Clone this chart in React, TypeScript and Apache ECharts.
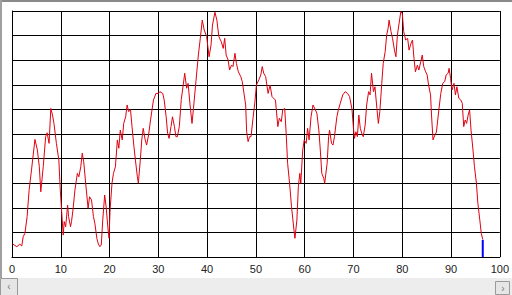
import React, { useEffect, useRef } from "react";
import * as echarts from "echarts";

// x positions and values of the red trace
const lineX: number[] = [
  0.1, 1.0, 1.6, 2.0, 2.3, 2.65, 3.1, 3.5, 4.0, 4.7, 5.2, 5.6, 5.9, 6.4, 6.9, 7.2, 7.6, 7.96, 8.3, 8.6,
  9.1, 9.6, 9.9, 10.2, 10.5, 10.7, 11.0, 11.4, 11.6, 12.0, 12.2, 12.5, 12.9, 13.4, 13.7, 14.1, 14.4, 14.7, 15.1, 15.6,
  15.9, 16.3, 16.7, 17.0, 17.4, 17.7, 18.0, 18.3, 18.6, 19.0, 19.3, 19.7, 19.9, 20.1, 20.5, 20.8, 21.2, 21.6, 21.9, 22.2,
  22.6, 22.9, 23.3, 23.6, 23.9, 24.3, 24.6, 25.0, 25.3, 25.7, 25.9, 26.3, 26.6, 26.9, 27.3, 27.6, 28.0, 28.4, 28.7, 29.0,
  29.5, 30.0, 30.3, 30.9, 31.2, 31.6, 31.9, 32.2, 32.6, 32.9, 33.3, 33.6, 33.9, 34.3, 34.7, 35.1, 35.4, 35.8, 36.1, 36.5,
  36.9, 37.2, 37.7, 38.2, 38.6, 39.0, 39.4, 39.9, 40.4, 40.8, 41.1, 41.6, 42.0, 42.4, 42.9, 43.3, 43.6, 43.9, 44.3, 44.6,
  45.0, 45.3, 45.7, 46.0, 46.4, 46.9, 47.2, 47.6, 47.9, 48.1, 48.4, 48.7, 49.0, 49.4, 49.8, 50.1, 50.6, 51.0, 51.3, 51.6,
  52.0, 52.5, 52.9, 53.3, 54.0, 54.5, 54.8, 55.2, 55.5, 55.9, 56.2, 56.5, 56.9, 57.3, 57.8, 58.0, 58.4, 58.7, 59.0, 59.2,
  59.6, 59.9, 60.3, 60.6, 60.9, 61.3, 61.7, 62.2, 62.5, 62.9, 63.2, 63.5, 63.9, 64.1, 64.6, 64.9, 65.1, 65.5, 65.8, 66.1,
  66.6, 66.9, 67.3, 67.8, 68.3, 68.8, 69.2, 69.7, 70.0, 70.2, 70.5, 70.8, 71.1, 71.4, 71.7, 72.0, 72.4, 72.7, 73.1, 73.4,
  73.7, 74.1, 74.4, 74.8, 75.1, 75.4, 75.8, 76.1, 76.5, 76.8, 77.1, 77.3, 77.7, 78.0, 78.4, 78.7, 79.0, 79.3, 79.7, 80.0,
  80.3, 80.7, 81.1, 81.4, 81.8, 82.1, 82.4, 82.7, 83.1, 83.4, 83.8, 84.1, 84.4, 84.8, 85.1, 85.4, 85.8, 86.0, 86.3, 86.7,
  87.0, 87.5, 87.9, 88.3, 88.7, 89.0, 89.4, 89.6, 89.9, 90.2, 90.6, 90.9, 91.2, 91.6, 92.0, 92.3, 92.6, 92.9, 93.2, 93.5,
  93.8, 94.1, 94.5, 94.8, 95.2, 95.5, 95.9, 96.2, 96.5,
];
const lineY: number[] = [
  5.3, 4.2, 5.2, 4.5, 8.3, 9.6, 16.4, 27, 35.4, 47.8, 43.5, 36.7, 26.5, 36.7, 48.9, 50.5, 46.2, 60.4, 57.7, 54.3,
  46.2, 39.4, 27.2, 17.8, 8.9, 14.4, 12.3, 21.1, 16.4, 12.3, 14.4, 19.1, 27.2, 34, 32.6, 36.7, 42.2, 38.7, 30, 19.8,
  24.5, 23.2, 16.4, 13.5, 7.5, 5.3, 4.2, 4.9, 15, 25.2, 20.4, 11, 7.6, 19.1, 30, 34, 36.7, 47.6, 44.2, 51.6,
  47.6, 54.3, 57, 61.8, 59.1, 59.8, 53, 44.8, 39.4, 32.6, 30, 39.4, 47.6, 52.3, 47.6, 45.5, 49.6, 55.7, 59.8, 63.8,
  66.5, 66.5, 67.2, 66.5, 63.8, 57, 50.3, 48.2, 53, 57, 53, 48.9, 48.9, 53, 64, 69.9, 74.7, 68.6, 70.6, 61.8,
  54.3, 60.4, 71.3, 82.1, 88.9, 96.3, 92.3, 89.6, 81.4, 86.2, 94.3, 99.5, 96.3, 89.6, 87.5, 84.8, 88.9, 82.1, 80.1, 76,
  78, 77.4, 82.8, 78.7, 75.3, 73.3, 71.3, 65.9, 61.8, 50.9, 46.9, 48.9, 48.9, 56.4, 63.1, 69.9, 72, 74, 77.4, 74.7,
  73.3, 66.5, 69.9, 65.2, 63.8, 53, 56.4, 55, 59.8, 60.4, 50.3, 38.1, 30, 20.4, 11, 7.6, 15, 28.6, 34, 30,
  43.5, 47.6, 46.2, 52.3, 47.6, 57, 61.8, 59.8, 58.4, 51.6, 43.5, 34, 32, 30, 38.1, 48.9, 51.6, 46.2, 45.5, 48.9,
  57, 59.8, 62.5, 65.9, 67.2, 66.5, 65.2, 60, 52.3, 48.2, 50.9, 48.9, 57.7, 52.3, 50.3, 48.9, 53.7, 61.8, 67.2, 65.9,
  74.7, 67.2, 69.2, 60.4, 54.3, 59.1, 70.6, 78.7, 83.5, 90.2, 93, 96.3, 91.6, 88.9, 84.1, 81.4, 90.2, 94.3, 99.7, 99.1,
  91.6, 88.2, 88.9, 84.1, 86.9, 88.2, 80.8, 75.3, 78, 76, 79.4, 82.1, 77.4, 75.3, 74, 69.9, 65.9, 57.7, 47.6, 49.6,
  50.8, 59.8, 66.5, 70.6, 71.3, 74, 74.7, 76.7, 72.6, 67.9, 70.6, 65.9, 69.2, 64.5, 63.8, 62.5, 53, 55.7, 54.3, 57.7,
  59.8, 51.6, 43.5, 36.7, 30, 21.8, 15, 9.6, 7.2,
];

// blue marker bar at the end of the trace
const barX: number[] = [96.5];
const barY: number[] = [7];

// x-axis tick labels
const xTicks: number[] = [0, 10, 20, 30, 40, 50, 60, 70, 80, 90, 100];

export default function App() {
  const ref = useRef<HTMLDivElement>(null);

  useEffect(() => {
    if (!ref.current) return;
    const chart = echarts.init(ref.current, undefined, { renderer: "svg" });
    const lineData = lineX.map((x, i) => [x, lineY[i]]);
    const barData = barX.map((x, i) => [x, barY[i]]);
    chart.setOption({
      animation: false,
      backgroundColor: "#ffffff",
      grid: { left: 12, right: 10, top: 11, bottom: 38, containLabel: false },
      xAxis: {
        type: "value",
        min: 0,
        max: 100,
        interval: 10,
        axisLine: { show: true, lineStyle: { color: "#000", width: 1 } },
        axisTick: { show: false },
        splitLine: { show: true, lineStyle: { color: "#000", width: 1 } },
        axisLabel: {
          show: true,
          margin: 6,
          fontSize: 11,
          fontFamily: "Liberation Sans",
          color: "#222",
          formatter: (v: number) => (xTicks.includes(v) ? String(v) : ""),
        },
      },
      yAxis: {
        type: "value",
        min: 0,
        max: 100,
        interval: 10,
        axisLine: { show: true, lineStyle: { color: "#000", width: 1 } },
        axisTick: { show: false },
        axisLabel: { show: false },
        splitLine: { show: true, lineStyle: { color: "#000", width: 1 } },
      },
      series: [
        {
          type: "line",
          data: lineData,
          showSymbol: false,
          symbol: "none",
          lineStyle: { color: "#e00010", width: 1 },
          z: 3,
        },
        {
          type: "bar",
          data: barData,
          barWidth: 2,
          itemStyle: { color: "#0000ff" },
          z: 4,
        },
      ],
      graphic: [
        { type: "line", shape: { x1: 0, y1: 1, x2: 512, y2: 1 }, style: { stroke: "#8a8a8a", lineWidth: 2 } },
        { type: "line", shape: { x1: 1, y1: 0, x2: 1, y2: 295 }, style: { stroke: "#a0a0a0", lineWidth: 2 } },
        { type: "rect", shape: { x: 0, y: 278, width: 512, height: 17 }, style: { fill: "#ededed" } },
        { type: "rect", shape: { x: 0.5, y: 278.5, width: 17, height: 17 }, style: { fill: "#e6e6e6", stroke: "#9a9a9a", lineWidth: 1 } },
        { type: "text", style: { text: "‹", x: 9, y: 286, fontSize: 10, fill: "#777", align: "center", verticalAlign: "middle" } },
        { type: "rect", shape: { x: 495.5, y: 281.5, width: 14, height: 13 }, style: { fill: "#e6e6e6", stroke: "#9a9a9a", lineWidth: 1 } },
        { type: "text", style: { text: "›", x: 503, y: 288, fontSize: 10, fill: "#777", align: "center", verticalAlign: "middle" } },
      ],
    });
    return () => chart.dispose();
  }, []);

  return (
    <div
      ref={ref}
      style={{ position: "fixed", left: 0, top: 0, width: 512, height: 295, background: "#fff" }}
    />
  );
}
